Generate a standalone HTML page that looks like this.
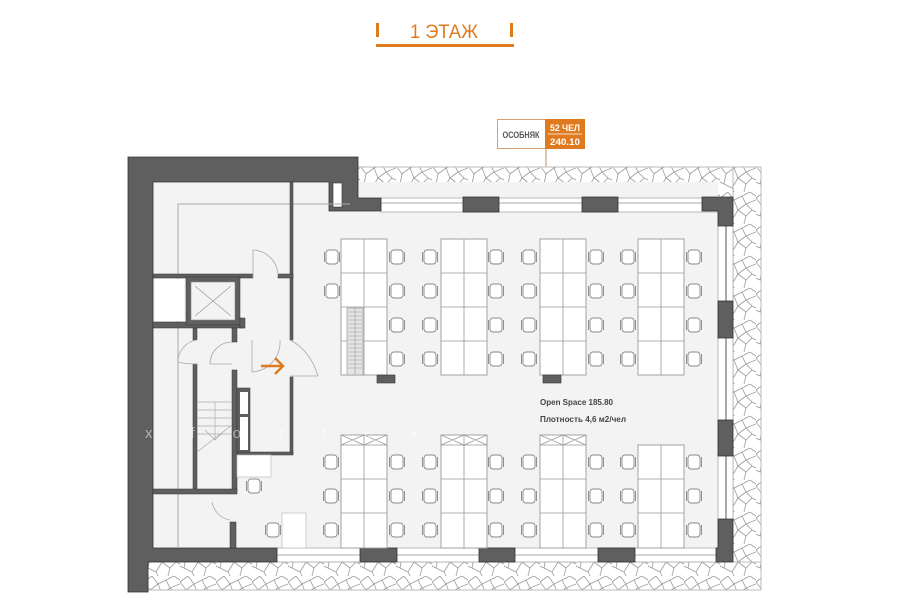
<!DOCTYPE html>
<html><head><meta charset="utf-8"><style>
html,body{margin:0;padding:0;background:#fff;width:900px;height:604px;overflow:hidden}
svg{display:block}
text{font-family:"Liberation Sans","DejaVu Sans",sans-serif}
</style></head><body>
<svg width="900" height="604" viewBox="0 0 900 604" xmlns="http://www.w3.org/2000/svg">
<defs>
<pattern id="peb" width="36" height="32" patternUnits="userSpaceOnUse">
<rect width="36" height="32" fill="#fff"/>
<path d="M0 6 L8 0 M0 6 L6 14 L14 8 L8 0 M14 8 L22 4 L26 12 L18 18 L14 8 M22 4 L30 0 M26 12 L36 8 M6 14 L4 24 L12 28 L18 18 M18 18 L26 24 L32 18 L26 12 M32 18 L36 20 M12 28 L14 32 M26 24 L24 32 M4 24 L0 22 M30 0 L36 4" fill="none" stroke="#9a9a9a" stroke-width="0.8"/>
</pattern>
<g id="ch"><rect x="-6" y="-7" width="12" height="14" rx="3" fill="#fff" stroke="#888" stroke-width="0.9"/><path d="M-7.5 -5 V5 M7.5 -5 V5" stroke="#888" stroke-width="0.9"/></g>
</defs>

<!-- title -->
<rect x="376" y="23" width="3" height="14" fill="#e07a1f"/>
<rect x="510" y="23" width="3" height="14" fill="#e07a1f"/>
<rect x="376" y="44" width="138" height="3" fill="#e07a1f"/>
<text x="444" y="38" font-size="19" fill="#e07a1f" text-anchor="middle" textLength="68" lengthAdjust="spacingAndGlyphs">1 ЭТАЖ</text>

<!-- label -->
<rect x="497.5" y="119.5" width="48" height="29" fill="#fff" stroke="#d8a070" stroke-width="1"/>
<text x="521" y="138" font-size="9" fill="#555" text-anchor="middle" font-weight="bold" textLength="37" lengthAdjust="spacingAndGlyphs">ОСОБНЯК</text>
<rect x="545" y="119" width="40" height="30" fill="#e07a1f"/>
<text x="565" y="131" font-size="9" fill="#fff" text-anchor="middle" font-weight="bold" textLength="30" lengthAdjust="spacingAndGlyphs">52 ЧЕЛ</text>
<line x1="548" y1="134" x2="582" y2="134" stroke="#fff" stroke-width="0.8"/>
<text x="565" y="145" font-size="9" fill="#fff" text-anchor="middle" font-weight="bold" textLength="30" lengthAdjust="spacingAndGlyphs">240.10</text>
<line x1="546" y1="149" x2="546" y2="222" stroke="#c98a50" stroke-width="1"/>
<circle cx="546" cy="222" r="1.8" fill="none" stroke="#e07a1f"/>

<!-- pebble surround -->
<rect x="358" y="167" width="403" height="31" fill="url(#peb)" stroke="#bbb"/>
<rect x="733" y="167" width="28" height="423" fill="url(#peb)" stroke="#bbb"/>
<rect x="148" y="562" width="613" height="28" fill="url(#peb)" stroke="#bbb"/>

<!-- floor -->
<rect x="153" y="182" width="565" height="366" fill="#f3f3f3"/>
<rect x="381" y="198" width="337" height="14" fill="#fff" stroke="#aaa" stroke-width="0.8"/>
<line x1="381" y1="203" x2="718" y2="203" stroke="#aaa"/>
<rect x="718" y="198" width="15" height="350" fill="#fff" stroke="#aaa" stroke-width="0.8"/>
<line x1="726" y1="226" x2="726" y2="520" stroke="#aaa" stroke-width="2"/>
<rect x="277" y="548" width="441" height="14" fill="#fff" stroke="#aaa" stroke-width="0.8"/>
<line x1="277" y1="555" x2="718" y2="555" stroke="#aaa"/>

<!-- dark walls -->
<g fill="#5f5f5f" stroke="#333" stroke-width="0.8">
<path d="M128 157 H358 V198 H381 V211 H329 V182 H153 V548 H277 V562 H148 V592 H128 Z"/>
<rect x="463" y="197" width="36" height="15"/>
<rect x="582" y="197" width="36" height="15"/>
<path d="M702 197 H733 V226 H718 V211 H702 Z"/>
<rect x="718" y="301" width="15" height="37"/>
<rect x="718" y="420" width="15" height="36"/>
<path d="M718 519 H733 V562 H716 V548 H718 Z"/>
<rect x="360" y="548" width="37" height="14"/>
<rect x="479" y="548" width="36" height="14"/>
<rect x="598" y="548" width="37" height="14"/>
</g>
<rect x="333" y="183" width="9" height="24" fill="#fff" stroke="#333" stroke-width="0.6"/>

<!-- left interior -->
<path d="M178 548 V204 H350" fill="none" stroke="#aaa" stroke-width="1"/>
<g fill="#5f5f5f" stroke="#333" stroke-width="0.5">
<rect x="290" y="182" width="3" height="158"/>
<rect x="290" y="377" width="3" height="77"/>
<rect x="153" y="274" width="100" height="4"/>
<rect x="278" y="274" width="15" height="4"/>
<rect x="153" y="322" width="91" height="6"/>
<rect x="186" y="277" width="54" height="48"/>
<rect x="193" y="328" width="4" height="12"/>
<rect x="193" y="364" width="4" height="127"/>
<rect x="232" y="328" width="5" height="14"/>
<rect x="232" y="370" width="5" height="122"/>
<rect x="237" y="388" width="13" height="65"/>
<rect x="237" y="452" width="56" height="3"/>
<rect x="153" y="489" width="84" height="5"/>
<rect x="230" y="522" width="6" height="26"/>
<rect x="240" y="318" width="5" height="10"/>
</g>
<rect x="155" y="279" width="29" height="42" fill="#fff"/>
<rect x="191" y="282" width="44" height="38" fill="#f3f3f3" stroke="#888" stroke-width="0.6"/>
<path d="M195 286 L231 316 M231 286 L195 316" stroke="#999" stroke-width="0.7"/>
<rect x="240" y="392" width="8" height="22" fill="#fff"/>
<rect x="240" y="417" width="8" height="33" fill="#fff"/>
<rect x="237" y="455" width="34" height="22" fill="#fff" stroke="#bbb" stroke-width="0.7"/>
<rect x="282" y="513" width="24" height="35" fill="#fff" stroke="#bbb" stroke-width="0.7"/>
<g stroke="#aaa" stroke-width="0.7" fill="none">
<path d="M197 402 H232 M197 410 H232 M197 418 H232 M197 426 H232 M197 434 H232 M215 402 V440 M205 430 L215 440 L225 430 M197 452 L232 425"/>
</g>
<g stroke="#aaa" stroke-width="0.8" fill="none">
<path d="M253 278 V250 A26 26 0 0 1 278 276"/>
<path d="M232 342 A22 22 0 0 0 210 364 H232"/>
<path d="M197 340 A22 22 0 0 0 178 362 Q185 364 197 364"/>
<path d="M252 340 V372 A30 30 0 0 0 280 340"/>
<path d="M290 340 Q310 350 318 376 H290"/>
<path d="M230 520 A22 22 0 0 1 212 502"/>
</g>
<path d="M261 366 H282 M275 358 L283 366 L275 374" fill="none" stroke="#e07a1f" stroke-width="2.5"/>
<use href="#ch" x="254" y="486"/>
<use href="#ch" x="273" y="530"/>

<!-- desks -->
<g fill="#fff" stroke="#999" stroke-width="0.9">
<rect x="341" y="239" width="46" height="136"/>
<rect x="441" y="239" width="46" height="136"/>
<rect x="540" y="239" width="46" height="136"/>
<rect x="638" y="239" width="46" height="136"/>
<rect x="341" y="435" width="46" height="113"/>
<rect x="441" y="435" width="46" height="113"/>
<rect x="540" y="435" width="46" height="113"/>
<rect x="638" y="445" width="46" height="103"/>
</g>
<g stroke="#999" stroke-width="0.8" fill="none">
<path d="M364 239 V375 M464 239 V375 M563 239 V375 M661 239 V375 M341 273 H387 M341 307 H387 M341 341 H387 M441 273 H487 M441 307 H487 M441 341 H487 M540 273 H586 M540 307 H586 M540 341 H586 M638 273 H684 M638 307 H684 M638 341 H684"/>
<path d="M364 435 V548 M464 435 V548 M563 435 V548 M661 445 V548 M341 445 H387 M441 445 H487 M540 445 H586 M341 479 H387 M341 513 H387 M441 479 H487 M441 513 H487 M540 479 H586 M540 513 H586 M638 479 H684 M638 513 H684"/>
<path d="M341 435 L364 445 M364 435 L341 445 M364 435 L387 445 M387 435 L364 445 M441 435 L464 445 M464 435 L441 445 M464 435 L487 445 M487 435 L464 445 M540 435 L563 445 M563 435 L540 445 M563 435 L586 445 M586 435 L563 445"/>
</g>
<rect x="347" y="308" width="16" height="67" fill="#e4e4e4" stroke="#999" stroke-width="0.7"/>
<path d="M348 312 H362 M348 316 H362 M348 320 H362 M348 324 H362 M348 328 H362 M348 332 H362 M348 336 H362 M348 340 H362 M348 344 H362 M348 348 H362 M348 352 H362 M348 356 H362 M348 360 H362 M348 364 H362 M348 368 H362 M355 308 V375" stroke="#999" stroke-width="0.6"/>
<rect x="377" y="375" width="18" height="8" fill="#5f5f5f" stroke="#333" stroke-width="0.6"/>
<rect x="543" y="375" width="18" height="8" fill="#5f5f5f" stroke="#333" stroke-width="0.6"/>

<g>
<use href="#ch" x="332" y="257"/><use href="#ch" x="332" y="291"/>
<use href="#ch" x="397" y="257"/><use href="#ch" x="397" y="291"/><use href="#ch" x="397" y="325"/><use href="#ch" x="397" y="359"/>
<use href="#ch" x="430" y="257"/><use href="#ch" x="430" y="291"/><use href="#ch" x="430" y="325"/><use href="#ch" x="430" y="359"/>
<use href="#ch" x="496" y="257"/><use href="#ch" x="496" y="291"/><use href="#ch" x="496" y="325"/><use href="#ch" x="496" y="359"/>
<use href="#ch" x="529" y="257"/><use href="#ch" x="529" y="291"/><use href="#ch" x="529" y="325"/><use href="#ch" x="529" y="359"/>
<use href="#ch" x="596" y="257"/><use href="#ch" x="596" y="291"/><use href="#ch" x="596" y="325"/><use href="#ch" x="596" y="359"/>
<use href="#ch" x="628" y="257"/><use href="#ch" x="628" y="291"/><use href="#ch" x="628" y="325"/><use href="#ch" x="628" y="359"/>
<use href="#ch" x="694" y="257"/><use href="#ch" x="694" y="291"/><use href="#ch" x="694" y="325"/><use href="#ch" x="694" y="359"/>
<use href="#ch" x="331" y="462"/><use href="#ch" x="331" y="496"/><use href="#ch" x="331" y="530"/>
<use href="#ch" x="397" y="462"/><use href="#ch" x="397" y="496"/><use href="#ch" x="397" y="530"/>
<use href="#ch" x="430" y="462"/><use href="#ch" x="430" y="496"/><use href="#ch" x="430" y="530"/>
<use href="#ch" x="496" y="462"/><use href="#ch" x="496" y="496"/><use href="#ch" x="496" y="530"/>
<use href="#ch" x="529" y="462"/><use href="#ch" x="529" y="496"/><use href="#ch" x="529" y="530"/>
<use href="#ch" x="596" y="462"/><use href="#ch" x="596" y="496"/><use href="#ch" x="596" y="530"/>
<use href="#ch" x="628" y="462"/><use href="#ch" x="628" y="496"/><use href="#ch" x="628" y="530"/>
<use href="#ch" x="694" y="462"/><use href="#ch" x="694" y="496"/><use href="#ch" x="694" y="530"/>
</g>

<text x="540" y="405" font-size="8.5" fill="#444" font-weight="bold" textLength="73" lengthAdjust="spacingAndGlyphs">Open Space  185.80</text>
<text x="540" y="422" font-size="8.5" fill="#444" font-weight="bold" textLength="86" lengthAdjust="spacingAndGlyphs">Плотность 4,6 м2/чел</text>

<text x="145" y="438" font-size="15" fill="#fff" fill-opacity="0.5" letter-spacing="38">xfortex</text>
</svg>
</body></html>
